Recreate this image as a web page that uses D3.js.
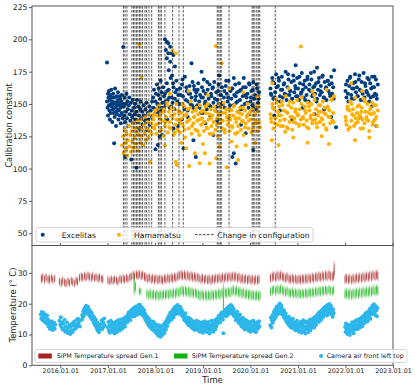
<!DOCTYPE html>
<html>
<head>
<meta charset="UTF-8">
<script src="https://d3js.org/d3.v7.min.js"></script>
<style>
  body { margin: 0; background: #fff; }
  svg { display: block; font-family: "DejaVu Sans", sans-serif; }
</style>
</head>
<body>
<div id="chart"></div>
<script>
// dates of configuration changes (dashed lines)
const configChanges = [
  "2017-04-30", "2017-05-12", "2017-05-27", "2017-07-04", "2017-07-16", "2017-07-27",
  "2017-08-08", "2017-08-19", "2017-08-31", "2017-09-11", "2017-09-23", "2017-10-12",
  "2017-10-25", "2017-11-12", "2017-12-03", "2018-01-24", "2018-02-05", "2018-02-16",
  "2018-03-15", "2018-05-13", "2018-07-01", "2018-08-03", "2019-04-21", "2019-05-03",
  "2019-05-14", "2019-05-22", "2019-07-21", "2020-01-14", "2020-01-23", "2020-02-04",
  "2020-02-19", "2020-03-02", "2020-03-13", "2020-07-10"
];

const yearTicks = [2016, 2017, 2018, 2019, 2020, 2021, 2022, 2023];
const calTicks = [50, 75, 100, 125, 150, 175, 200, 225];
const tempTicks = [0, 10, 20, 30];

// calibration constant, Excelitas [decimal year, value]
const excelitas = [
  [2016.98,182],[2016.98,152],[2016.99,147],[2017.00,158],[2017.00,141],[2017.01,155],[2017.02,149],[2017.02,160],
  [2017.03,145],[2017.04,153],[2017.04,138],[2017.05,157],[2017.06,150],[2017.06,143],[2017.07,161],[2017.08,148],
  [2017.08,155],[2017.09,136],[2017.10,152],[2017.10,146],[2017.11,158],[2017.12,143],[2017.12,150],[2017.13,119.6],
  [2017.13,155],[2017.14,140],[2017.15,147],[2017.15,162],[2017.16,151],[2017.17,144],[2017.17,133],[2017.18,156],
  [2017.19,149],[2017.19,142],[2017.20,153],[2017.21,146],[2017.21,159],[2017.22,138],[2017.23,151],[2017.23,145],
  [2017.24,156],[2017.25,141],[2017.25,149],[2017.26,154],[2017.27,135],[2017.27,147],[2017.28,152],[2017.29,143],
  [2017.29,157],[2017.30,150],[2017.31,139],[2017.32,194],[2017.36,109],[2017.49,107],[2017.60,100.7],
  [2017.33,148],[2017.34,141],[2017.35,155],[2017.36,136],[2017.37,150],[2017.38,144],[2017.39,158],[2017.40,139],
  [2017.41,152],[2017.42,146],[2017.43,133],[2017.44,149],[2017.45,155],[2017.46,142],[2017.47,137],[2017.48,151],
  [2017.50,145],[2017.51,140],[2017.52,153],[2017.53,135],[2017.55,147],[2017.56,142],[2017.57,150],[2017.58,138],
  [2017.60,144],[2017.61,153],[2017.62,136],[2017.64,148],[2017.65,141],[2017.66,131],[2017.68,146],[2017.69,152],
  [2017.70,139],[2017.72,144],[2017.73,134],[2017.75,149],[2017.76,141],[2017.78,137],[2017.79,146],[2017.81,151],
  [2017.82,130],[2017.84,143],[2017.85,138],[2017.87,148],[2017.88,134],[2017.90,145],[2017.92,140],[2017.93,152],
  [2017.95,155],[2017.96,147],[2017.97,161],[2017.98,142],[2018.00,152],[2018.00,115],[2018.01,158],[2018.02,146],
  [2018.03,165],[2018.04,150],[2018.05,118.3],[2018.05,143],[2018.06,157],[2018.07,162],[2018.08,148],[2018.09,124.7],
  [2018.10,154],[2018.11,168],[2018.12,145],[2018.13,159],[2018.14,126],[2018.15,151],[2018.16,163],[2018.17,147],
  [2018.18,156],[2018.20,200],[2018.24,198.2],[2018.27,197],[2018.31,194.3],[2018.22,191.8],[2018.27,189.2],
  [2018.34,189.2],[2018.38,187.9],[2018.24,185.4],[2018.31,182.7],[2018.41,178.9],[2018.28,176],[2018.35,172],
  [2018.20,158],[2018.22,149],[2018.24,166],[2018.26,153],[2018.28,161],[2018.30,147],[2018.32,170],[2018.34,155],
  [2018.36,151],[2018.38,163],[2018.40,146],[2018.42,159],[2018.44,168],[2018.46,152],[2018.48,157],[2018.50,144],
  [2018.52,162],[2018.54,150],[2018.56,165],[2018.58,156],[2018.60,148],[2018.62,171],[2018.64,153],[2018.66,160],
  [2018.68,145],[2018.70,158],[2018.72,164],[2018.74,150],[2018.76,155],[2018.78,167],[2018.80,147],[2018.82,161],
  [2018.84,153],[2018.86,159],[2018.88,149],[2018.90,166],[2018.92,152],[2018.94,157],[2018.96,143],[2018.98,163],
  [2019.00,155],[2019.02,169],[2019.04,150],[2019.06,158],[2019.08,146],[2019.10,161],[2019.12,154],[2019.14,165],
  [2019.16,148],[2019.18,156],[2019.20,162],[2019.22,151],[2019.24,167],[2019.26,145],[2019.28,159],[2019.30,153],
  [2019.32,160],[2019.34,172],[2019.36,149],[2019.38,157],[2019.40,163],[2019.42,150],[2019.44,155],[2019.46,147],
  [2019.48,164],[2019.50,158],[2019.52,152],[2019.54,168],[2019.56,146],[2019.58,160],[2019.60,154],[2019.62,162],
  [2019.64,149],[2019.66,157],[2019.68,165],[2019.70,151],[2019.72,159],[2019.74,144],[2019.76,166],[2019.78,153],
  [2019.80,161],[2019.82,148],[2019.84,156],[2019.86,170],[2019.88,150],[2019.90,163],[2019.92,155],[2019.94,158],
  [2019.96,147],[2019.98,165],[2020.00,152],[2020.02,160],[2020.04,149],[2020.06,167],[2020.08,154],[2020.10,157],
  [2020.12,146],[2020.14,162],[2020.16,151],[2020.18,159],
  [2018.21,152],[2018.25,160],[2018.29,155],[2018.33,148],[2018.37,166],[2018.41,154],[2018.45,161],[2018.49,150],
  [2018.53,157],[2018.57,169],[2018.61,146],[2018.65,163],[2018.69,152],[2018.73,158],[2018.77,149],[2018.81,164],
  [2018.85,156],[2018.89,161],[2018.93,147],[2018.97,155],[2019.01,160],[2019.05,152],[2019.09,167],[2019.13,149],
  [2019.17,158],[2019.21,163],[2019.25,154],[2019.29,148],[2019.33,165],[2019.37,157],[2019.41,151],[2019.45,160],
  [2019.49,168],[2019.53,155],[2019.57,149],[2019.61,162],[2019.65,170],[2019.69,156],[2019.73,152],[2019.77,160],
  [2019.81,146],[2019.85,163],[2019.89,157],[2019.93,151],[2019.97,166],[2020.01,155],[2020.05,161],[2020.09,148],
  [2020.13,165],[2020.17,154],
  [2018.47,133],[2018.55,138],[2018.59,115.7],[2018.68,140],[2018.76,181.5],[2018.80,122],[2018.85,109],[2018.97,175],
  [2019.05,135],[2019.15,141],[2019.22,126],[2019.30,137],[2019.45,130],[2019.55,139],[2019.62,109],[2019.65,111.8],
  [2019.69,104],[2019.80,134],[2019.90,127.3],[2019.97,142],[2020.06,114.4],[2020.12,136],[2018.38,131],[2018.25,138],
  [2019.00,143],[2019.35,142],
  [2020.42,162],[2020.44,157],[2020.46,170],[2020.48,154],[2020.50,166],[2020.52,159],[2020.54,173],[2020.56,152],
  [2020.58,164],[2020.60,168],[2020.62,156],[2020.64,161],[2020.66,171],[2020.68,155],[2020.70,165],[2020.72,158],
  [2020.74,175],[2020.76,153],[2020.78,163],[2020.80,169],[2020.82,157],[2020.84,160],[2020.86,167],[2020.88,154],
  [2020.90,172],[2020.92,159],[2020.94,164],[2020.96,156],[2020.98,170],[2021.00,162],[2021.02,153],[2021.04,166],
  [2021.06,158],[2021.08,174],[2021.10,161],[2021.12,155],[2021.14,168],[2021.16,163],[2021.18,157],[2021.20,171],
  [2021.22,152],[2021.24,165],[2021.26,160],[2021.28,169],[2021.30,156],[2021.32,163],[2021.34,175],[2021.36,158],
  [2021.38,166],[2021.40,154],[2021.42,161],[2021.44,170],[2021.46,157],[2021.48,164],[2021.50,159],[2021.52,172],
  [2021.54,155],[2021.56,167],[2021.58,162],[2021.60,153],[2021.62,168],[2021.64,160],[2021.66,165],[2021.68,156],
  [2021.70,171],[2021.72,158],[2021.74,163],[2021.76,176],
  [2020.43,158],[2020.47,167],[2020.51,155],[2020.55,163],[2020.59,170],[2020.63,152],[2020.67,161],[2020.71,166],
  [2020.75,157],[2020.79,173],[2020.83,160],[2020.87,154],[2020.91,168],[2020.95,162],[2020.99,156],[2021.03,171],
  [2021.07,159],[2021.11,165],[2021.15,153],[2021.19,169],[2021.23,161],[2021.27,174],[2021.31,157],[2021.35,164],
  [2021.39,152],[2021.43,167],[2021.47,160],[2021.51,171],[2021.55,155],[2021.59,163],[2021.63,168],[2021.67,158],
  [2021.71,166],[2021.75,154],
  [2020.50,141],[2020.62,145],[2020.88,138],[2021.10,147],[2021.35,142],[2021.55,146],[2021.80,132],[2021.70,140],
  [2020.95,180],[2021.40,178],
  [2022.00,160],[2022.02,155],[2022.04,168],[2022.06,152],[2022.08,164],[2022.10,171],[2022.12,157],[2022.14,162],
  [2022.16,166],[2022.18,154],[2022.20,173],[2022.22,159],[2022.24,163],[2022.26,156],[2022.28,169],[2022.30,161],
  [2022.32,153],[2022.34,167],[2022.36,158],[2022.38,174],[2022.40,155],[2022.42,164],[2022.44,160],[2022.46,170],
  [2022.48,157],[2022.50,152],[2022.52,166],[2022.54,162],[2022.56,171],[2022.58,156],[2022.60,163],[2022.62,158],
  [2022.64,169],[2022.66,154],[2022.68,165],
  [2022.01,165],[2022.05,158],[2022.09,170],[2022.13,154],[2022.17,162],[2022.21,167],[2022.25,156],[2022.29,172],
  [2022.33,160],[2022.37,153],[2022.41,166],[2022.45,159],[2022.49,169],[2022.53,155],[2022.57,163],[2022.61,171],
  [2022.65,157],[2022.05,146],[2022.30,140],[2022.55,148],[2022.65,133]
];

// calibration constant, Hamamatsu [decimal year, value]
const hamamatsu = [
  [2017.30,118],[2017.32,125],[2017.33,112],[2017.35,130],[2017.36,120],[2017.38,115],[2017.39,127],[2017.41,110],
  [2017.42,122],[2017.44,133],[2017.45,117],[2017.47,126],[2017.48,113],[2017.50,129],[2017.51,121],[2017.53,135],
  [2017.54,116],[2017.56,124],[2017.57,131],[2017.59,119],[2017.60,128],[2017.62,137],[2017.63,114],[2017.65,126],
  [2017.66,196],[2017.67,132],[2017.68,120],[2017.70,138],[2017.71,170.4],[2017.71,125],[2017.73,130],[2017.74,118],
  [2017.76,134],[2017.77,127],[2017.79,140],[2017.80,122],[2017.82,131],[2017.83,136],[2017.85,124],[2017.86,142],
  [2017.88,129],[2017.89,105.3],[2017.91,135],[2017.92,127],[2017.94,140],[2017.95,132],
  [2017.96,138],[2017.98,131],[2018.00,145],[2018.02,127],[2018.04,141],[2018.06,135],[2018.08,149],[2018.10,129],
  [2018.12,143],[2018.14,137],[2018.16,125],[2018.18,146],[2018.20,133],[2018.22,140],[2018.24,151],[2018.26,128],
  [2018.28,144],[2018.30,136],[2018.32,131],[2018.34,147],[2018.36,139],[2018.38,126],[2018.40,142],[2018.42,134],
  [2018.44,150],[2018.46,130],[2018.48,145],[2018.50,137],[2018.52,128],[2018.54,143],[2018.56,139],[2018.58,133],
  [2018.60,148],[2018.62,124],[2018.64,141],[2018.66,136],[2018.68,146],[2018.70,131],[2018.72,138],[2018.74,152],
  [2018.76,127],[2018.78,144],[2018.80,135],[2018.82,140],[2018.84,130],[2018.86,147],[2018.88,137],[2018.90,142],
  [2018.92,126],[2018.94,149],[2018.96,134],[2018.98,139],[2019.00,145],[2019.02,129],[2019.04,136],[2019.06,143],
  [2019.08,132],[2019.10,150],[2019.12,138],[2019.14,127],[2019.16,146],[2019.18,133],[2019.20,141],[2019.22,136],
  [2019.24,148],[2019.26,130],[2019.28,144],[2019.30,139],[2019.32,125],[2019.34,142],[2019.36,135],[2019.38,147],
  [2019.40,131],[2019.42,137],[2019.44,151],[2019.46,128],[2019.48,143],[2019.50,140],[2019.52,134],[2019.54,146],
  [2019.56,129],[2019.58,138],[2019.60,145],[2019.62,132],[2019.64,141],[2019.66,149],[2019.68,127],[2019.70,136],
  [2019.72,144],[2019.74,133],[2019.76,139],[2019.78,147],[2019.80,130],[2019.82,142],[2019.84,137],[2019.86,126],
  [2019.88,145],[2019.90,135],[2019.92,140],[2019.94,150],[2019.96,131],[2019.98,143],[2020.00,138],[2020.02,128],
  [2020.04,146],[2020.06,134],[2020.08,141],[2020.10,137],[2020.12,148],[2020.14,129],[2020.16,144],[2020.18,136],
  [2020.20,132],
  [2017.97,142],[2018.01,134],[2018.05,147],[2018.09,139],[2018.13,130],[2018.17,144],[2018.21,136],[2018.25,149],
  [2018.29,132],[2018.33,141],[2018.37,146],[2018.41,128],[2018.45,138],[2018.49,143],[2018.53,135],[2018.57,150],
  [2018.61,130],[2018.65,142],[2018.69,137],[2018.73,147],[2018.77,133],[2018.81,140],[2018.85,145],[2018.89,129],
  [2018.93,138],[2018.97,144],[2019.01,136],[2019.05,148],[2019.09,131],[2019.13,142],[2019.17,139],[2019.21,127],
  [2019.25,145],[2019.29,134],[2019.33,150],[2019.37,138],[2019.41,143],[2019.45,130],[2019.49,146],[2019.53,137],
  [2019.57,141],[2019.61,133],[2019.65,148],[2019.69,139],[2019.73,128],[2019.77,143],[2019.81,136],[2019.85,147],
  [2019.89,132],[2019.93,141],[2019.97,137],[2020.01,145],[2020.05,130],[2020.09,142],[2020.13,135],[2020.17,148],
  [2018.43,189.2],[2018.36,191.3],[2019.27,194.9],[2019.40,181.5],
  [2018.43,105.3],[2018.45,102.8],[2018.71,102],[2018.83,111.8],[2018.93,104.1],[2019.04,111.8],[2019.14,104],
  [2019.28,108],[2019.50,101],[2019.71,117],[2019.74,106.7],[2018.65,115.7],[2018.20,118],[2018.55,120],[2019.00,119],
  [2019.35,117],[2019.60,121],[2019.90,118],[2020.10,120],
  [2018.30,158],[2018.70,160],[2019.10,157],[2019.55,162],[2019.85,159],[2020.15,156],
  [2020.42,142],[2020.44,136],[2020.46,150],[2020.48,131],[2020.50,146],[2020.52,139],[2020.54,154],[2020.56,134],
  [2020.58,144],[2020.60,148],[2020.62,137],[2020.64,141],[2020.66,152],[2020.68,133],[2020.70,145],[2020.72,138],
  [2020.74,156],[2020.76,132],[2020.78,143],[2020.80,149],[2020.82,136],[2020.84,140],[2020.86,147],[2020.88,130],
  [2020.90,151],[2020.92,139],[2020.94,144],[2020.96,135],[2020.98,153],[2021.00,141],[2021.02,133],[2021.04,146],
  [2021.06,138],[2021.08,155],[2021.10,140],[2021.12,134],[2021.14,148],[2021.16,143],[2021.18,137],[2021.20,151],
  [2021.22,131],[2021.24,145],[2021.26,139],[2021.28,150],[2021.30,135],[2021.32,142],[2021.34,157],[2021.36,138],
  [2021.38,146],[2021.40,132],[2021.42,141],[2021.44,149],[2021.46,136],[2021.48,144],[2021.50,139],[2021.52,152],
  [2021.54,134],[2021.56,147],[2021.58,142],[2021.60,130],[2021.62,148],[2021.64,140],[2021.66,145],[2021.68,135],
  [2021.70,153],[2021.72,137],[2021.74,143],[2021.76,156],
  [2020.43,139],[2020.47,147],[2020.51,135],[2020.55,151],[2020.59,141],[2020.63,133],[2020.67,149],[2020.71,138],
  [2020.75,144],[2020.79,131],[2020.83,152],[2020.87,140],[2020.91,136],[2020.95,146],[2020.99,142],[2021.03,134],
  [2021.07,150],[2021.11,139],[2021.15,145],[2021.19,132],[2021.23,148],[2021.27,141],[2021.31,137],[2021.35,153],
  [2021.39,135],[2021.43,144],[2021.47,149],[2021.51,138],[2021.55,143],[2021.59,131],[2021.63,147],[2021.67,140],
  [2021.71,154],[2021.75,136],
  [2020.45,122],[2020.59,118.3],[2020.73,128.6],[2020.90,124],[2021.20,120],[2021.50,125],[2021.65,119],
  [2021.06,194.4],[2020.46,166],[2020.80,162],[2021.30,160],[2021.60,161],
  [2022.00,140],[2022.02,134],[2022.04,148],[2022.06,130],[2022.08,145],[2022.10,152],[2022.12,137],[2022.14,142],
  [2022.16,146],[2022.18,133],[2022.20,155],[2022.22,139],[2022.24,143],[2022.26,136],[2022.28,149],[2022.30,141],
  [2022.32,131],[2022.34,147],[2022.36,138],[2022.38,154],[2022.40,135],[2022.42,144],[2022.44,140],[2022.46,150],
  [2022.48,137],[2022.50,129],[2022.52,146],[2022.54,142],[2022.56,151],[2022.58,136],[2022.60,143],[2022.62,138],
  [2022.64,149],[2022.66,133],[2022.68,145],
  [2022.01,137],[2022.05,146],[2022.09,132],[2022.13,150],[2022.17,141],[2022.21,135],[2022.25,148],[2022.29,139],
  [2022.33,144],[2022.37,131],[2022.41,152],[2022.45,138],[2022.49,143],[2022.53,147],[2022.57,134],[2022.61,149],
  [2022.65,140],[2022.12,166],[2022.35,160],[2022.20,122],[2022.50,124]
];

// SiPM temperature spread Gen.1 [decimal year, min, max]
const sipmGen1 = [
  [2015.60,26.4,29.8],[2015.63,26.9,30.1],[2015.67,26.2,29.5],[2015.70,27.0,30.0],[2015.74,26.5,29.3],[2015.77,26.1,29.7],
  [2015.81,26.8,29.9],[2015.84,26.3,29.4],[2015.88,26.6,29.6],
  [2015.98,25.6,28.7],[2016.02,25.2,28.4],[2016.05,25.8,29.0],[2016.09,25.4,28.5],[2016.12,25.1,28.2],[2016.16,25.7,28.8],
  [2016.19,25.3,28.3],[2016.23,25.9,28.9],[2016.26,25.5,28.6],[2016.30,25.2,28.1],[2016.33,26.0,29.0],[2016.36,25.6,28.7],
  [2016.40,26.8,29.9],[2016.44,27.2,30.4],[2016.47,26.9,30.1],[2016.51,27.4,30.6],[2016.54,27.0,30.2],[2016.58,27.5,30.7],
  [2016.61,27.1,30.3],[2016.65,26.8,30.0],[2016.68,27.3,30.5],[2016.72,26.9,29.8],[2016.75,27.2,30.2],[2016.79,26.6,29.7],
  [2016.82,27.0,30.1],[2016.86,26.7,29.6],[2016.89,26.4,29.5],
  [2017.00,26.0,29.2],[2017.04,25.8,28.9],[2017.07,26.3,29.5],[2017.11,25.9,29.0],[2017.14,26.4,29.4],[2017.18,26.1,29.1],
  [2017.21,25.7,28.8],[2017.25,26.5,29.6],[2017.28,26.2,29.3],[2017.32,26.6,29.7],[2017.35,26.3,29.5],[2017.39,26.8,29.9],
  [2017.42,26.5,29.6],[2017.46,27.0,30.1],
  [2017.49,27.2,30.4],[2017.53,27.6,30.9],[2017.56,27.3,30.6],[2017.60,27.8,31.1],[2017.63,27.5,30.8],[2017.66,27.9,31.2],
  [2017.70,27.4,30.7],[2017.73,27.7,31.0],[2017.77,27.1,30.5],
  [2017.80,26.8,30.2],[2017.84,26.4,29.8],[2017.87,26.9,30.1],[2017.91,26.2,29.6],[2017.94,26.6,29.9],[2017.98,26.1,29.5],
  [2018.01,26.5,29.8],[2018.05,26.0,29.4],[2018.08,26.4,29.7],[2018.12,26.2,29.6],[2018.15,25.9,29.3],[2018.19,26.5,29.9],
  [2018.22,26.2,29.5],[2018.26,26.7,30.0],[2018.29,26.3,29.7],[2018.33,26.8,30.2],[2018.36,26.5,29.9],[2018.40,27.0,30.4],
  [2018.43,26.7,30.1],[2018.47,27.2,30.6],
  [2018.50,27.4,30.9],[2018.54,27.7,31.2],[2018.57,27.3,30.8],[2018.61,27.6,31.1],[2018.64,27.2,30.7],[2018.68,27.5,31.0],
  [2018.71,27.0,30.5],[2018.75,27.3,30.8],[2018.78,26.9,30.3],[2018.82,27.1,30.6],[2018.85,26.7,30.2],[2018.89,26.9,30.3],
  [2018.92,26.5,29.9],[2018.96,26.2,29.6],[2018.99,26.6,30.0],[2019.03,26.1,29.5],[2019.06,26.4,29.8],[2019.10,26.0,29.4],
  [2019.13,26.3,29.7],[2019.17,25.9,29.3],[2019.20,26.4,29.8],[2019.24,26.1,29.6],[2019.27,26.6,30.0],[2019.31,26.3,29.7],
  [2019.34,26.7,30.1],[2019.38,26.4,29.8],[2019.41,26.9,30.3],[2019.45,26.6,30.0],[2019.48,27.0,30.4],[2019.52,26.7,30.2],
  [2019.55,27.1,30.5],[2019.59,26.8,30.3],[2019.62,27.2,30.6],[2019.66,26.9,30.4],[2019.69,27.1,30.7],[2019.73,26.6,30.1],
  [2019.76,26.8,30.3],[2019.80,26.3,29.8],[2019.83,26.5,30.0],[2019.87,26.1,29.6],[2019.90,26.4,29.9],[2019.94,26.0,29.5],
  [2019.97,26.3,29.8],[2020.01,25.9,29.4],[2020.04,26.2,29.7],[2020.08,25.8,29.3],[2020.11,26.1,29.6],[2020.15,25.9,29.4],
  [2020.18,26.2,29.7],
  [2020.42,26.6,30.1],[2020.46,26.9,30.5],[2020.49,27.2,30.8],[2020.53,26.8,30.4],[2020.56,27.3,30.9],[2020.60,27.0,30.6],
  [2020.63,27.4,31.0],[2020.67,27.1,30.7],[2020.70,26.8,30.3],[2020.74,26.5,30.0],[2020.77,26.9,30.4],[2020.81,26.4,29.9],
  [2020.84,26.2,29.6],[2020.88,26.6,30.0],[2020.91,26.1,29.5],[2020.95,26.4,29.8],[2020.98,26.0,29.4],[2021.02,26.3,29.7],
  [2021.05,26.0,29.5],[2021.09,26.4,29.9],[2021.12,26.1,29.6],[2021.16,26.5,30.0],[2021.19,26.2,29.7],[2021.23,26.6,30.1],
  [2021.26,26.3,29.8],[2021.30,26.8,30.3],[2021.33,26.5,30.0],[2021.37,27.0,30.5],[2021.40,26.7,30.2],[2021.44,27.1,30.7],
  [2021.47,26.8,30.4],[2021.51,27.3,30.9],[2021.54,27.0,30.6],[2021.58,27.4,31.1],[2021.61,27.1,30.7],[2021.65,27.5,31.2],
  [2021.68,27.2,30.8],[2021.72,27.0,30.6],[2021.75,27.3,30.9],[2021.76,28.5,33.8],
  [2021.99,26.2,29.7],[2022.02,26.5,30.0],[2022.06,26.1,29.6],[2022.09,26.4,29.9],[2022.13,26.0,29.5],[2022.16,26.5,30.0],
  [2022.20,26.2,29.7],[2022.23,26.7,30.2],[2022.27,26.3,29.9],[2022.30,26.8,30.3],[2022.34,26.5,30.0],[2022.37,27.0,30.5],
  [2022.41,26.6,30.2],[2022.44,27.1,30.7],[2022.48,26.8,30.4],[2022.51,27.3,30.9],[2022.55,27.0,30.6],[2022.58,27.5,31.1],
  [2022.62,27.2,30.8],[2022.65,27.6,31.2],[2022.68,27.3,30.9]
];

// SiPM temperature spread Gen.2 [decimal year, min, max]
const sipmGen2 = [
  [2017.55,22.2,29.8],[2017.58,23.5,27.5],[2017.66,22.5,25.6],[2017.69,22.9,25.2],
  [2017.82,21.4,25.0],[2017.86,21.0,24.6],[2017.89,21.5,25.1],[2017.93,20.9,24.5],[2017.96,21.3,24.9],[2018.00,20.8,24.4],
  [2018.03,21.2,24.8],[2018.07,20.7,24.3],[2018.10,21.1,24.7],[2018.14,20.9,24.5],[2018.17,21.3,24.9],[2018.21,21.0,24.6],
  [2018.24,21.4,25.0],[2018.28,21.1,24.8],[2018.31,21.6,25.2],[2018.35,21.3,24.9],[2018.38,21.8,25.4],[2018.42,21.5,25.1],
  [2018.45,22.0,25.6],[2018.49,21.7,25.4],[2018.52,22.2,26.0],[2018.56,22.4,26.2],[2018.59,22.0,25.8],[2018.63,22.3,26.1],
  [2018.66,21.9,25.7],[2018.70,22.1,25.9],[2018.73,21.7,25.5],[2018.77,21.9,25.6],[2018.80,21.5,25.2],[2018.84,21.7,25.4],
  [2018.87,21.3,25.0],[2018.91,21.1,24.8],[2018.94,20.8,24.5],[2018.98,21.2,24.9],[2019.01,20.7,24.4],[2019.05,21.0,24.7],
  [2019.08,20.6,24.3],[2019.12,20.9,24.6],[2019.15,20.7,24.4],[2019.19,21.1,24.8],[2019.22,20.8,24.5],[2019.26,21.2,24.9],
  [2019.29,21.0,24.7],[2019.33,21.4,25.1],[2019.36,21.1,24.9],[2019.40,21.6,25.3],[2019.43,15.8,27.3],[2019.47,21.8,25.5],
  [2019.50,21.5,25.2],[2019.54,22.0,25.7],[2019.57,21.7,25.4],[2019.61,22.2,25.9],[2019.64,22.4,26.2],[2019.68,22.1,25.9],
  [2019.71,22.3,26.1],[2019.75,21.8,25.6],[2019.78,22.0,25.7],[2019.82,21.5,25.2],[2019.85,21.7,25.4],[2019.89,21.2,24.9],
  [2019.92,21.4,25.1],[2019.96,21.0,24.7],[2019.99,21.2,24.9],[2020.03,20.8,24.5],[2020.06,21.0,24.7],[2020.10,20.7,24.4],
  [2020.13,20.9,24.6],[2020.17,20.6,24.3],[2020.20,20.8,24.5],
  [2020.42,22.2,25.6],[2020.46,22.5,26.0],[2020.49,22.8,26.3],[2020.53,22.4,25.9],[2020.56,22.9,26.4],[2020.60,22.6,26.1],
  [2020.63,23.0,26.5],[2020.67,22.7,26.2],[2020.70,22.3,25.8],[2020.74,22.0,25.5],[2020.77,22.4,25.9],[2020.81,21.9,25.3],
  [2020.84,21.6,25.1],[2020.88,22.0,25.5],[2020.91,21.5,25.0],[2020.95,21.8,25.3],[2020.98,21.4,24.9],[2021.02,21.7,25.2],
  [2021.05,21.3,24.8],[2021.09,21.6,25.1],[2021.12,21.4,24.9],[2021.16,21.8,25.3],[2021.19,21.5,25.0],[2021.23,21.9,25.4],
  [2021.26,21.6,25.2],[2021.30,22.1,25.6],[2021.33,21.8,25.3],[2021.37,22.3,25.8],[2021.40,22.0,25.5],[2021.44,22.4,25.9],
  [2021.47,22.1,25.7],[2021.51,22.6,26.1],[2021.54,22.3,25.8],[2021.58,22.7,26.2],[2021.61,22.4,25.9],[2021.65,22.8,26.3],
  [2021.68,22.5,26.0],[2021.72,22.3,25.8],[2021.75,22.6,26.1],
  [2021.99,21.2,25.0],[2022.02,21.5,25.3],[2022.06,21.1,24.9],[2022.09,21.4,25.2],[2022.13,21.0,24.8],[2022.16,21.5,25.3],
  [2022.20,21.2,25.0],[2022.23,21.7,25.5],[2022.27,21.3,25.1],[2022.30,21.8,25.6],[2022.34,21.5,25.3],[2022.37,22.0,25.8],
  [2022.41,21.6,25.4],[2022.44,22.1,25.9],[2022.48,21.8,25.6],[2022.51,22.3,26.1],[2022.55,22.0,25.8],[2022.58,22.5,26.3],
  [2022.62,22.2,26.0],[2022.65,22.6,26.5],[2022.68,22.3,26.2]
];

// camera air front left top [decimal year, temperature]
const cameraAir = [
  [2015.59,16.5],[2015.60,15.2],[2015.61,17.3],[2015.62,14.8],[2015.63,16.1],[2015.64,15.6],[2015.65,17.0],[2015.66,14.2],
  [2015.67,15.9],[2015.68,16.4],[2015.69,13.8],[2015.70,15.1],[2015.71,14.5],[2015.72,16.2],[2015.73,13.4],[2015.74,14.9],
  [2015.75,12.6],[2015.76,14.1],[2015.77,13.0],[2015.78,11.8],[2015.80,13.6],[2015.81,12.2],[2015.82,14.3],[2015.84,11.5],
  [2015.85,12.9],[2015.87,13.8],[2015.88,11.9],[2015.89,13.2],
  [2015.98,14.5],[2016.00,13.2],[2016.01,15.6],[2016.02,12.4],[2016.04,14.0],[2016.05,11.6],[2016.06,13.5],[2016.08,12.0],
  [2016.09,14.8],[2016.10,10.9],[2016.12,12.7],[2016.13,11.3],[2016.14,13.9],[2016.16,10.4],[2016.17,12.2],[2016.18,11.0],
  [2016.20,13.1],[2016.21,10.2],[2016.22,12.5],[2016.24,11.4],[2016.25,13.6],[2016.26,10.8],[2016.28,12.9],[2016.29,14.2],
  [2016.30,11.7],[2016.32,13.3],[2016.33,12.1],[2016.34,14.7],[2016.36,12.8],[2016.37,15.1],[2016.38,13.5],[2016.40,14.4],
  [2016.41,12.6],
  [2016.45,14.8],[2016.46,16.3],[2016.47,15.5],[2016.48,17.4],[2016.49,16.0],[2016.50,18.2],[2016.51,16.9],[2016.52,18.8],
  [2016.53,17.5],[2016.54,19.3],[2016.55,16.8],[2016.56,18.5],[2016.57,17.9],[2016.58,19.0],[2016.59,16.6],[2016.60,18.1],
  [2016.61,17.2],[2016.62,15.9],[2016.63,17.6],[2016.64,16.4],[2016.65,15.3],[2016.66,17.0],[2016.67,14.8],[2016.68,16.1],
  [2016.69,15.0],[2016.70,13.7],[2016.71,15.6],[2016.72,14.2],[2016.73,12.9],[2016.74,14.9],[2016.75,13.5],[2016.76,12.1],
  [2016.77,14.0],[2016.78,11.4],[2016.79,13.1],[2016.80,12.4],[2016.81,10.7],[2016.82,12.8],[2016.83,11.6],[2016.85,13.4],
  [2016.86,12.0],[2016.87,14.6],[2016.88,11.8],[2016.90,13.9],[2016.91,12.5],[2016.92,15.2],[2016.93,13.0],
  [2017.00,12.3],[2017.01,14.1],[2017.02,11.2],[2017.03,13.0],[2017.04,10.6],[2017.05,12.7],[2017.06,14.5],[2017.07,11.5],
  [2017.08,13.3],[2017.09,10.9],[2017.10,12.1],[2017.11,13.8],[2017.12,11.0],[2017.13,12.6],[2017.14,10.3],[2017.15,13.5],
  [2017.16,11.8],[2017.17,14.2],[2017.18,12.4],[2017.19,10.8],[2017.20,13.1],[2017.21,11.6],[2017.22,14.6],[2017.23,12.0],
  [2017.24,13.7],[2017.25,11.3],[2017.26,12.9],[2017.27,14.9],[2017.28,12.2],[2017.29,13.6],[2017.30,11.9],[2017.31,14.0],
  [2017.32,12.7],[2017.33,15.2],[2017.34,13.3],[2017.35,14.4],[2017.36,12.5],[2017.37,15.6],[2017.38,13.8],[2017.39,14.7],
  [2017.40,15.9],[2017.41,14.1],[2017.42,16.5],[2017.43,15.0],[2017.44,17.2],[2017.45,15.7],[2017.46,16.8],[2017.47,14.6],
  [2017.48,17.5],[2017.49,16.2],[2017.50,18.0],[2017.51,15.8],[2017.52,17.4],[2017.53,16.5],[2017.54,18.6],[2017.55,17.0],
  [2017.56,15.9],[2017.57,18.3],[2017.58,16.8],[2017.59,19.1],[2017.60,17.6],[2017.61,16.4],[2017.62,18.9],[2017.63,17.2],
  [2017.64,19.5],[2017.65,18.0],[2017.66,16.7],[2017.67,19.7],[2017.68,18.4],[2017.69,17.1],[2017.70,19.0],[2017.71,17.8],
  [2017.72,16.3],[2017.73,18.5],[2017.74,17.0],
  [2017.75,16.2],[2017.76,17.9],[2017.77,15.4],[2017.78,16.8],[2017.79,14.7],[2017.80,16.1],[2017.81,15.0],[2017.82,13.9],
  [2017.83,15.8],[2017.84,14.3],[2017.85,13.1],[2017.86,15.2],[2017.87,13.6],[2017.88,12.4],[2017.89,14.5],[2017.90,12.9],
  [2017.91,14.0],[2017.92,11.8],[2017.93,13.3],[2017.94,12.1],[2017.95,14.2],[2017.96,11.4],[2017.97,12.8],[2017.98,13.7],
  [2017.99,11.0],[2018.00,12.5],[2018.01,10.6],[2018.02,13.2],[2018.03,11.7],[2018.04,10.1],[2018.05,12.3],[2018.06,9.6],
  [2018.07,11.2],[2018.08,13.0],[2018.09,10.4],[2018.10,11.9],[2018.11,9.3],[2018.12,12.6],[2018.13,10.8],[2018.14,11.5],
  [2018.15,9.9],[2018.16,12.9],[2018.17,11.1],[2018.18,13.4],[2018.19,10.5],[2018.20,12.0],[2018.21,14.1],[2018.22,11.6],
  [2018.23,13.0],
  [2018.24,14.6],[2018.25,12.8],[2018.26,15.3],[2018.27,13.9],[2018.28,16.0],[2018.29,14.4],[2018.30,15.7],[2018.31,17.1],
  [2018.32,15.0],[2018.33,16.6],[2018.34,14.8],[2018.35,17.5],[2018.36,16.2],[2018.37,18.1],[2018.38,15.6],[2018.39,17.3],
  [2018.40,18.7],[2018.41,16.5],[2018.42,17.9],[2018.43,19.2],[2018.44,16.9],[2018.45,18.4],[2018.46,17.4],[2018.47,19.6],
  [2018.48,18.0],[2018.49,16.7],[2018.50,18.9],[2018.51,17.6],
  [2018.52,19.0],[2018.53,17.2],[2018.54,18.3],[2018.55,16.4],[2018.56,17.7],[2018.57,15.9],[2018.58,17.0],[2018.59,16.1],
  [2018.60,14.8],[2018.61,16.6],[2018.62,15.2],[2018.63,16.9],[2018.64,14.3],[2018.65,15.6],[2018.66,13.8],[2018.67,15.1],
  [2018.68,14.6],[2018.69,13.2],[2018.70,15.4],[2018.71,12.9],[2018.72,14.0],[2018.73,13.5],[2018.74,15.0],[2018.75,12.4],
  [2018.76,13.9],[2018.77,12.8],[2018.78,14.4],[2018.79,11.9],[2018.80,13.3],[2018.81,12.6],[2018.82,14.1],[2018.83,11.5],
  [2018.84,13.0],[2018.85,12.2],[2018.86,14.5],[2018.87,11.8],
  [2018.88,13.4],[2018.89,12.0],[2018.90,14.2],[2018.91,11.2],[2018.92,12.7],[2018.93,13.8],[2018.94,10.9],[2018.95,12.3],
  [2018.96,13.5],[2018.97,11.6],[2018.98,14.0],[2018.99,12.4],[2019.00,10.6],[2019.01,13.1],[2019.02,11.8],[2019.03,12.9],
  [2019.04,14.3],[2019.05,11.1],[2019.06,12.6],[2019.07,13.7],[2019.08,10.8],[2019.09,12.2],[2019.10,13.3],[2019.11,11.4],
  [2019.12,14.1],[2019.13,12.5],[2019.14,10.3],[2019.15,13.0],[2019.16,11.9],[2019.17,12.8],[2019.18,14.5],[2019.19,11.3],
  [2019.20,13.6],[2019.21,12.1],[2019.22,10.9],[2019.23,13.2],[2019.24,12.4],[2019.25,14.6],[2019.26,11.7],[2019.27,13.9],
  [2019.28,12.6],[2019.29,15.0],
  [2019.30,13.5],[2019.31,15.3],[2019.32,14.1],[2019.33,16.0],[2019.34,14.7],[2019.35,15.8],[2019.36,13.9],[2019.37,16.6],
  [2019.38,15.2],[2019.39,17.1],[2019.40,15.7],[2019.41,16.9],[2019.42,14.8],[2019.43,10.4],[2019.44,17.4],[2019.45,16.1],
  [2019.46,18.0],[2019.47,16.6],[2019.48,17.7],[2019.49,15.9],[2019.50,18.4],[2019.51,17.0],[2019.52,16.3],[2019.53,18.8],
  [2019.54,17.5],[2019.55,19.2],[2019.56,16.8],[2019.57,18.1],[2019.58,17.3],[2019.59,19.6],[2019.60,18.5],[2019.61,16.9],
  [2019.62,19.0],
  [2019.63,17.8],[2019.64,16.4],[2019.65,18.3],[2019.66,15.9],[2019.67,17.2],[2019.68,16.0],[2019.69,14.6],[2019.70,16.8],
  [2019.71,15.3],[2019.72,17.4],[2019.73,14.9],[2019.74,16.2],[2019.75,13.8],[2019.76,15.6],[2019.77,14.3],[2019.78,16.5],
  [2019.79,13.4],[2019.80,15.0],[2019.81,12.7],[2019.82,14.6],[2019.83,13.9],[2019.84,15.4],[2019.85,12.2],[2019.86,14.1],
  [2019.87,13.1],[2019.88,11.6],[2019.89,14.8],[2019.90,12.5],[2019.91,13.7],[2019.92,11.9],[2019.93,14.4],[2019.94,12.8],
  [2019.95,13.5],[2019.96,11.3],[2019.97,14.0],[2019.98,12.1],[2019.99,13.3],[2020.00,10.9],[2020.01,12.6],[2020.02,14.2],
  [2020.03,11.5],[2020.04,13.0],[2020.05,12.0],[2020.06,14.5],[2020.07,11.1],[2020.08,12.9],[2020.09,13.8],[2020.10,11.7],
  [2020.11,13.2],[2020.12,10.8],[2020.13,12.4],[2020.14,14.0],[2020.15,11.9],[2020.16,13.6],[2020.17,12.2],[2020.18,14.3],
  [2020.19,12.7],
  [2020.42,13.0],[2020.43,15.4],[2020.44,12.3],[2020.45,14.6],[2020.46,16.2],[2020.47,13.8],[2020.48,15.9],[2020.49,17.3],
  [2020.50,14.9],[2020.51,16.7],[2020.52,18.1],[2020.53,15.6],[2020.54,17.5],[2020.55,19.0],[2020.56,16.4],[2020.57,18.4],
  [2020.58,17.1],[2020.59,19.5],[2020.60,18.0],[2020.61,16.8],[2020.62,20.1],[2020.63,18.6],[2020.64,17.4],[2020.65,19.3],
  [2020.66,17.9],[2020.67,16.5],[2020.68,18.2],[2020.69,16.9],[2020.70,15.7],[2020.71,17.6],
  [2020.72,16.2],[2020.73,15.0],[2020.74,16.8],[2020.75,14.4],[2020.76,15.7],[2020.77,13.9],[2020.78,15.3],[2020.79,14.6],
  [2020.80,13.2],[2020.81,15.8],[2020.82,14.1],[2020.83,12.7],[2020.84,14.9],[2020.85,13.5],[2020.86,12.2],[2020.87,14.3],
  [2020.88,13.0],[2020.89,15.1],[2020.90,12.5],[2020.91,13.8],[2020.92,11.9],[2020.93,14.0],[2020.94,12.8],[2020.95,11.4],
  [2020.96,13.6],[2020.97,12.3],[2020.98,14.5],[2020.99,11.8],[2021.00,13.2],[2021.01,12.0],[2021.02,10.9],[2021.03,13.4],
  [2021.04,12.6],[2021.05,14.1],[2021.06,11.3],[2021.07,12.9],[2021.08,10.6],[2021.09,13.5],[2021.10,12.2],[2021.11,14.6],
  [2021.12,11.0],[2021.13,12.7],[2021.14,13.9],[2021.15,11.6],[2021.16,10.3],[2021.17,12.4],[2021.18,14.2],[2021.19,11.8],
  [2021.20,13.1],[2021.21,12.0],[2021.22,10.8],[2021.23,13.7],[2021.24,12.5],[2021.25,14.8],[2021.26,11.4],[2021.27,13.3],
  [2021.28,12.1],[2021.29,14.0],[2021.30,12.8],[2021.31,15.2],[2021.32,13.0],[2021.33,14.4],[2021.34,12.3],[2021.35,15.6],
  [2021.36,13.6],[2021.37,14.9],[2021.38,13.2],[2021.39,16.1],
  [2021.40,14.5],[2021.41,16.3],[2021.42,15.0],[2021.43,17.0],[2021.44,14.1],[2021.45,16.6],[2021.46,15.4],[2021.47,17.5],
  [2021.48,16.0],[2021.49,14.8],[2021.50,17.8],[2021.51,16.4],[2021.52,18.2],[2021.53,15.7],[2021.54,17.3],[2021.55,18.7],
  [2021.56,16.5],[2021.57,17.9],[2021.58,19.1],[2021.59,17.0],[2021.60,18.4],[2021.61,16.2],[2021.62,19.6],[2021.63,17.7],
  [2021.64,18.9],[2021.65,16.8],[2021.66,19.9],[2021.67,18.1],[2021.68,17.2],[2021.69,19.3],[2021.70,16.6],[2021.71,18.5],
  [2021.72,17.4],[2021.73,15.8],[2021.74,18.0],[2021.75,16.9],
  [2021.99,12.4],[2022.00,10.8],[2022.01,13.6],[2022.02,11.5],[2022.03,12.9],[2022.04,10.2],[2022.05,11.9],[2022.06,13.2],
  [2022.07,10.6],[2022.08,12.3],[2022.09,9.8],[2022.10,11.4],[2022.11,13.0],[2022.12,10.9],[2022.13,12.1],[2022.14,14.0],
  [2022.15,11.2],[2022.16,12.8],[2022.17,10.4],[2022.18,13.5],[2022.19,12.0],[2022.20,14.3],[2022.21,11.6],[2022.22,13.1],
  [2022.23,12.4],[2022.24,14.7],[2022.25,13.0],[2022.26,11.8],[2022.27,14.2],[2022.28,12.9],[2022.29,15.0],[2022.30,13.6],
  [2022.31,12.3],[2022.32,14.8],[2022.33,13.4],[2022.34,15.5],[2022.35,14.1],[2022.36,12.8],[2022.37,15.9],[2022.38,14.4],
  [2022.39,16.2],[2022.40,13.7],[2022.41,15.3],[2022.42,16.8],[2022.43,14.6],[2022.44,17.1],[2022.45,15.7],[2022.46,14.2],
  [2022.47,16.9],[2022.48,15.4],[2022.49,17.6],[2022.50,16.1],[2022.51,18.3],[2022.52,15.0],[2022.53,17.4],[2022.54,16.5],
  [2022.55,18.8],[2022.56,17.2],[2022.57,19.4],[2022.58,16.7],[2022.59,18.1],[2022.60,19.8],[2022.61,17.5],[2022.62,18.9],
  [2022.63,16.3],[2022.64,19.2],[2022.65,17.8],[2022.66,15.9],[2022.67,18.6]
];

const colors = {
  excelitas: "#003f7f",
  hamamatsu: "#ffb000",
  gen1: "#a82222",
  gen2: "#12b012",
  camera: "#2cb6ea"
};

const width = 415, height = 388;
const m = {left: 32, right: 393, top: 6, mid: 245.5, bottom: 365.3};

function toDate(v) {
  const yr = Math.floor(v);
  const a = new Date(yr, 0, 1), b = new Date(yr + 1, 0, 1);
  return new Date(+a + (v - yr) * (b - a));
}
const parseDay = d3.timeParse("%Y-%m-%d");

const x = d3.scaleTime()
  .domain([new Date(2015, 4, 28), new Date(2023, 0, 1)])
  .range([m.left, m.right]);
const yCal = d3.scaleLinear().domain([40.5, 225.8]).range([m.mid, m.top]);
const yTemp = d3.scaleLinear().domain([0, 38.9]).range([m.bottom, m.mid]);

const svg = d3.select("#chart").append("svg")
  .attr("width", width).attr("height", height);
svg.append("rect").attr("width", width).attr("height", height).attr("fill", "#fff");

const defs = svg.append("defs");
defs.append("clipPath").attr("id", "clipTop").append("rect")
  .attr("x", m.left).attr("y", m.top).attr("width", m.right - m.left).attr("height", m.mid - m.top);
defs.append("clipPath").attr("id", "clipBot").append("rect")
  .attr("x", m.left).attr("y", m.mid).attr("width", m.right - m.left).attr("height", m.bottom - m.mid);

// vertical fade for the spread bars
[["gradGen1", colors.gen1], ["gradGen2", colors.gen2]].forEach(([id, c]) => {
  const g = defs.append("linearGradient").attr("id", id)
    .attr("x1", 0).attr("y1", 0).attr("x2", 0).attr("y2", 1);
  g.append("stop").attr("offset", "0%").attr("stop-color", c).attr("stop-opacity", 0.15);
  g.append("stop").attr("offset", "30%").attr("stop-color", c).attr("stop-opacity", 0.8);
  g.append("stop").attr("offset", "70%").attr("stop-color", c).attr("stop-opacity", 0.8);
  g.append("stop").attr("offset", "100%").attr("stop-color", c).attr("stop-opacity", 0.15);
});

// ---- top panel: calibration constant
const gTop = svg.append("g").attr("clip-path", "url(#clipTop)");

gTop.selectAll(".exc").data(excelitas).enter().append("circle")
  .attr("cx", d => x(toDate(d[0]))).attr("cy", d => yCal(d[1]))
  .attr("r", 2).attr("fill", colors.excelitas);

gTop.selectAll(".ham").data(hamamatsu).enter().append("circle")
  .attr("cx", d => x(toDate(d[0]))).attr("cy", d => yCal(d[1]))
  .attr("r", 2).attr("fill", colors.hamamatsu);

gTop.selectAll(".cfg").data(configChanges).enter().append("line")
  .attr("x1", d => x(parseDay(d))).attr("x2", d => x(parseDay(d)))
  .attr("y1", m.top).attr("y2", m.mid)
  .attr("stroke", "#111").attr("stroke-width", 0.7)
  .attr("stroke-dasharray", "2.6,1.4");

// ---- bottom panel: temperatures
const gBot = svg.append("g").attr("clip-path", "url(#clipBot)");

gBot.selectAll(".g1").data(sipmGen1).enter().append("rect")
  .attr("x", d => x(toDate(d[0])) - 0.55).attr("width", 1.1)
  .attr("y", d => yTemp(d[2])).attr("height", d => yTemp(d[1]) - yTemp(d[2]))
  .attr("fill", "url(#gradGen1)");

gBot.selectAll(".g2").data(sipmGen2).enter().append("rect")
  .attr("x", d => x(toDate(d[0])) - 0.55).attr("width", 1.1)
  .attr("y", d => yTemp(d[2])).attr("height", d => yTemp(d[1]) - yTemp(d[2]))
  .attr("fill", "url(#gradGen2)");

gBot.selectAll(".cam").data(cameraAir).enter().append("circle")
  .attr("cx", d => x(toDate(d[0]))).attr("cy", d => yTemp(d[1]))
  .attr("r", 2).attr("fill", colors.camera);

// ---- axes
const tickDates = yearTicks.map(y => new Date(y, 0, 1));

const axTop = svg.append("g").attr("transform", `translate(${m.left},0)`)
  .call(d3.axisLeft(yCal).tickValues(calTicks).tickSize(3).tickPadding(1.5));
const axBot = svg.append("g").attr("transform", `translate(${m.left},0)`)
  .call(d3.axisLeft(yTemp).tickValues(tempTicks).tickSize(3).tickPadding(1.5));
[axTop, axBot].forEach(a => {
  a.select(".domain").remove();
  a.selectAll("text").attr("font-size", 7.7).attr("fill", "#222").attr("font-family", "DejaVu Sans");
  a.selectAll("line").attr("stroke", "#333").attr("stroke-width", 0.8);
});

const axX = svg.append("g").attr("transform", `translate(0,${m.bottom})`)
  .call(d3.axisBottom(x).tickValues(tickDates).tickFormat(d3.timeFormat("%Y.%m.%d")).tickSize(3).tickPadding(0.5));
axX.select(".domain").remove();
axX.selectAll("text").attr("font-size", 6.4).attr("fill", "#222").attr("font-family", "DejaVu Sans");
axX.selectAll("line").attr("stroke", "#333").attr("stroke-width", 0.8);

// small ticks at the shared boundary
svg.selectAll(".midtick").data(tickDates).enter().append("line")
  .attr("x1", d => x(d)).attr("x2", d => x(d))
  .attr("y1", m.mid - 2.5).attr("y2", m.mid)
  .attr("stroke", "#333").attr("stroke-width", 0.8);

// frames
svg.append("rect").attr("x", m.left).attr("y", m.top)
  .attr("width", m.right - m.left).attr("height", m.mid - m.top)
  .attr("fill", "none").attr("stroke", "#555").attr("stroke-width", 1);
svg.append("rect").attr("x", m.left).attr("y", m.mid)
  .attr("width", m.right - m.left).attr("height", m.bottom - m.mid)
  .attr("fill", "none").attr("stroke", "#555").attr("stroke-width", 1);

// axis labels
svg.append("text").attr("transform", "translate(8.5,125.5) rotate(-90)")
  .attr("text-anchor", "middle").attr("dominant-baseline", "central")
  .attr("font-size", 8.4).attr("fill", "#222").text("Calibration constant");
svg.append("text").attr("transform", "translate(12.5,305) rotate(-90)")
  .attr("text-anchor", "middle").attr("dominant-baseline", "central")
  .attr("font-size", 8.4).attr("fill", "#222").text("Temperature (° C)");
svg.append("text").attr("x", 212.5).attr("y", 383)
  .attr("text-anchor", "middle").attr("font-size", 8.4).attr("fill", "#222").text("Time");

// ---- legend, top panel
const lg1 = svg.append("g");
lg1.append("rect").attr("x", 36).attr("y", 227.5).attr("width", 277).attr("height", 14.5)
  .attr("rx", 2).attr("fill", "#fff").attr("fill-opacity", 0.8)
  .attr("stroke", "#ccc").attr("stroke-width", 0.8);
lg1.append("circle").attr("cx", 42.7).attr("cy", 234.7).attr("r", 2).attr("fill", colors.excelitas);
lg1.append("text").attr("x", 61.7).attr("y", 237.5).attr("font-size", 7.7).attr("fill", "#222").text("Excelitas");
lg1.append("circle").attr("cx", 119).attr("cy", 234.7).attr("r", 2).attr("fill", colors.hamamatsu);
lg1.append("text").attr("x", 134).attr("y", 237.5).attr("font-size", 7.7).attr("fill", "#222").text("Hamamatsu");
lg1.append("line").attr("x1", 195).attr("x2", 215).attr("y1", 234.7).attr("y2", 234.7)
  .attr("stroke", "#111").attr("stroke-width", 0.8).attr("stroke-dasharray", "2.6,1.4");
lg1.append("text").attr("x", 217.3).attr("y", 237.5).attr("font-size", 7.7).attr("fill", "#222").text("Change in configuration");

// ---- legend, bottom panel
const lg2 = svg.append("g");
lg2.append("rect").attr("x", 35).attr("y", 349.5).attr("width", 372).attr("height", 13)
  .attr("rx", 2).attr("fill", "#fff").attr("fill-opacity", 0.8)
  .attr("stroke", "#ccc").attr("stroke-width", 0.8);
lg2.append("rect").attr("x", 38.3).attr("y", 353.5).attr("width", 13.5).attr("height", 5).attr("fill", colors.gen1);
lg2.append("text").attr("x", 56.7).attr("y", 358.3).attr("font-size", 6.35).attr("fill", "#222").text("SiPM Temperature spread Gen.1");
lg2.append("rect").attr("x", 174).attr("y", 353.5).attr("width", 13.5).attr("height", 5).attr("fill", colors.gen2);
lg2.append("text").attr("x", 191.7).attr("y", 358.3).attr("font-size", 6.35).attr("fill", "#222").text("SiPM Temperature spread Gen.2");
lg2.append("circle").attr("cx", 321).attr("cy", 356).attr("r", 2).attr("fill", colors.camera);
lg2.append("text").attr("x", 326.7).attr("y", 358.3).attr("font-size", 6.35).attr("fill", "#222").text("Camera air front left top");
</script>
</body>
</html>
